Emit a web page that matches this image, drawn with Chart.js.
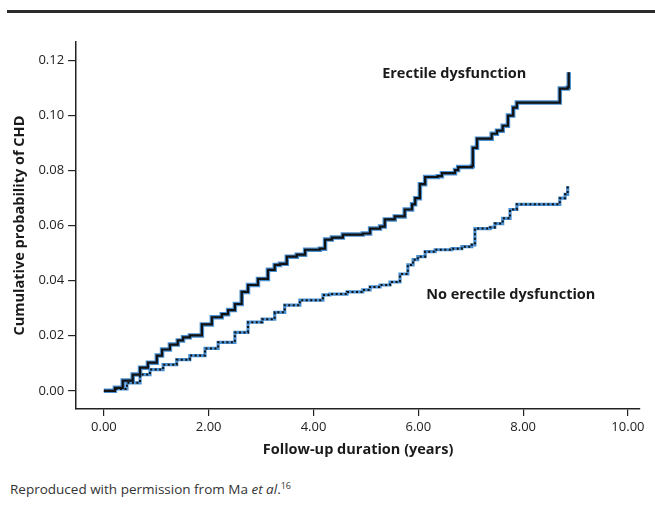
<!DOCTYPE html>
<html>
<head>
<meta charset="utf-8">
<script src="https://cdn.jsdelivr.net/npm/chart.js@4.4.1/dist/chart.umd.min.js"></script>
<style>
  html, body { margin: 0; padding: 0; background: #fff; }
  body { width: 655px; height: 524px; position: relative; overflow: hidden; font-family: "Open Sans", "Noto Sans", sans-serif; }
  #rule { position: absolute; left: 7px; right: 0; top: 10px; height: 3px; background: #2b2b2b; }
  #wrap { position: absolute; left: 0; top: 20px; width: 655px; height: 450px; }
  #caption { position: absolute; left: 10px; top: 480px; font-size: 13.5px; color: #333; }
  #caption sup { font-size: 9px; vertical-align: 5px; line-height: 0; }
</style>
</head>
<body>
<div id="rule"></div>
<div id="wrap"><canvas id="kmChart"></canvas></div>
<div id="caption">Reproduced with permission from Ma <i>et al</i>.<sup>16</sup></div>
<script>
// Kaplan-Meier curves (years, cumulative probability)
const edYears = [0, 0.21, 0.36, 0.55, 0.69, 0.84, 1.01, 1.11, 1.26, 1.41, 1.51, 1.64, 1.87, 2.06, 2.25, 2.37, 2.50, 2.63, 2.75, 2.94, 3.13, 3.26, 3.36, 3.49, 3.68, 3.84, 4.12, 4.22, 4.35, 4.56, 4.94, 5.08, 5.27, 5.36, 5.55, 5.74, 5.88, 5.94, 6.03, 6.13, 6.37, 6.45, 6.70, 6.76, 7.02, 7.04, 7.12, 7.31, 7.40, 7.50, 7.61, 7.71, 7.81, 7.88, 8.66, 8.70, 8.85, 8.87];
const edProb = [0, 0.0011, 0.0037, 0.0059, 0.0084, 0.0102, 0.0128, 0.0150, 0.0168, 0.0183, 0.0194, 0.0201, 0.0241, 0.0267, 0.0278, 0.0293, 0.0315, 0.0359, 0.0384, 0.0406, 0.0439, 0.0457, 0.0461, 0.0487, 0.0494, 0.0512, 0.0516, 0.0549, 0.0556, 0.0567, 0.0571, 0.0589, 0.0596, 0.0622, 0.0633, 0.0658, 0.0677, 0.0699, 0.0750, 0.0776, 0.0779, 0.0790, 0.0801, 0.0812, 0.0816, 0.0882, 0.0915, 0.0915, 0.0933, 0.0944, 0.0962, 0.0999, 0.1028, 0.1046, 0.1046, 0.1097, 0.1101, 0.1156];

const noEdYears = [0, 0.21, 0.44, 0.69, 0.88, 1.13, 1.39, 1.64, 1.93, 2.18, 2.50, 2.75, 3.02, 3.26, 3.45, 3.74, 4.18, 4.31, 4.64, 4.94, 5.08, 5.27, 5.46, 5.65, 5.80, 5.90, 5.99, 6.13, 6.32, 6.64, 6.83, 7.02, 7.08, 7.14, 7.37, 7.46, 7.61, 7.75, 7.88, 8.66, 8.70, 8.80, 8.85];
const noEdProb = [0, 0.0007, 0.0029, 0.0059, 0.0077, 0.0095, 0.0113, 0.0128, 0.0154, 0.0176, 0.0212, 0.0249, 0.0260, 0.0285, 0.0311, 0.0329, 0.0348, 0.0351, 0.0359, 0.0366, 0.0377, 0.0384, 0.0395, 0.0424, 0.0457, 0.0476, 0.0487, 0.0505, 0.0512, 0.0516, 0.0523, 0.0530, 0.0589, 0.0589, 0.0593, 0.0607, 0.0626, 0.0658, 0.0677, 0.0677, 0.0699, 0.0713, 0.0743];

const xTicks = [0, 2, 4, 6, 8, 10];
const yTicks = [0, 0.02, 0.04, 0.06, 0.08, 0.10, 0.12];

function toPoints(xs, ys) {
  return xs.map((x, i) => ({ x: x, y: ys[i] }));
}

const edPoints = toPoints(edYears, edProb);
const noEdPoints = toPoints(noEdYears, noEdProb);

const halo = '#4a8fd0';
const ink = '#111';
const axisFont = { family: '"Open Sans", "Noto Sans", sans-serif', size: 13 };
const titleFont = { family: '"Open Sans", "Noto Sans", sans-serif', size: 14.5, weight: 'bold' };

// curve labels, anchored in data coordinates
const curveLabels = [
  { text: 'Erectile dysfunction', x: 5.31, y: 0.1149 },
  { text: 'No erectile dysfunction', x: 6.15, y: 0.0348 }
];

const labelPlugin = {
  id: 'curveLabels',
  afterDatasetsDraw(chart) {
    const c = chart.ctx;
    c.save();
    c.font = 'bold 14.5px "Open Sans", "Noto Sans", sans-serif';
    c.fillStyle = '#1a1a1a';
    c.textBaseline = 'middle';
    curveLabels.forEach(l => {
      c.fillText(l.text, chart.scales.x.getPixelForValue(l.x), chart.scales.y.getPixelForValue(l.y));
    });
    c.restore();
  }
};

var ctx = document.getElementById('kmChart').getContext('2d');

var chart = new Chart(ctx, {
  type: 'line',
  data: {
    datasets: [
      { label: 'Erectile dysfunction', data: edPoints, stepped: true, borderColor: ink, borderWidth: 2.2, pointRadius: 0, fill: false, order: 0 },
      { label: 'No erectile dysfunction', data: noEdPoints, stepped: true, borderColor: ink, borderWidth: 2, borderDash: [2, 2.5], pointRadius: 0, fill: false, order: 1 },
      { label: 'ED halo', data: edPoints, stepped: true, borderColor: halo, borderWidth: 4.5, pointRadius: 0, fill: false, order: 2 },
      { label: 'No ED halo', data: noEdPoints, stepped: true, borderColor: halo, borderWidth: 3.2, pointRadius: 0, fill: false, order: 3 }
    ]
  },
  options: {
    responsive: true,
    maintainAspectRatio: false,
    animation: false,
    layout: { padding: { left: 7, right: 15, top: 22, bottom: 7 } },
    plugins: {
      legend: { display: false },
      tooltip: { enabled: false }
    },
    scales: {
      x: {
        type: 'linear',
        min: -0.53,
        max: 10.23,
        afterBuildTicks: s => { s.ticks = xTicks.map(v => ({ value: v })); },
        ticks: { callback: v => v.toFixed(2), color: '#222', font: axisFont, padding: 3, maxRotation: 0 },
        grid: { display: true, drawOnChartArea: false, drawTicks: true, tickLength: 7, color: '#222', lineWidth: 1.2 },
        border: { display: true, color: '#222', width: 1.5 },
        title: { display: true, text: 'Follow-up duration (years)', color: '#1a1a1a', font: titleFont, padding: { top: 4 } }
      },
      y: {
        type: 'linear',
        min: -0.0066,
        max: 0.1266,
        afterBuildTicks: s => { s.ticks = yTicks.map(v => ({ value: v })); },
        ticks: { callback: v => v.toFixed(2), color: '#222', font: axisFont, padding: 4 },
        grid: { display: true, drawOnChartArea: false, drawTicks: true, tickLength: 8, color: '#222', lineWidth: 1.2 },
        border: { display: true, color: '#222', width: 1.5 },
        title: { display: true, text: 'Cumulative probability of CHD', color: '#1a1a1a', font: titleFont, padding: { bottom: 6 } }
      }
    }
  },
  plugins: [labelPlugin]
});
</script>
</body>
</html>
